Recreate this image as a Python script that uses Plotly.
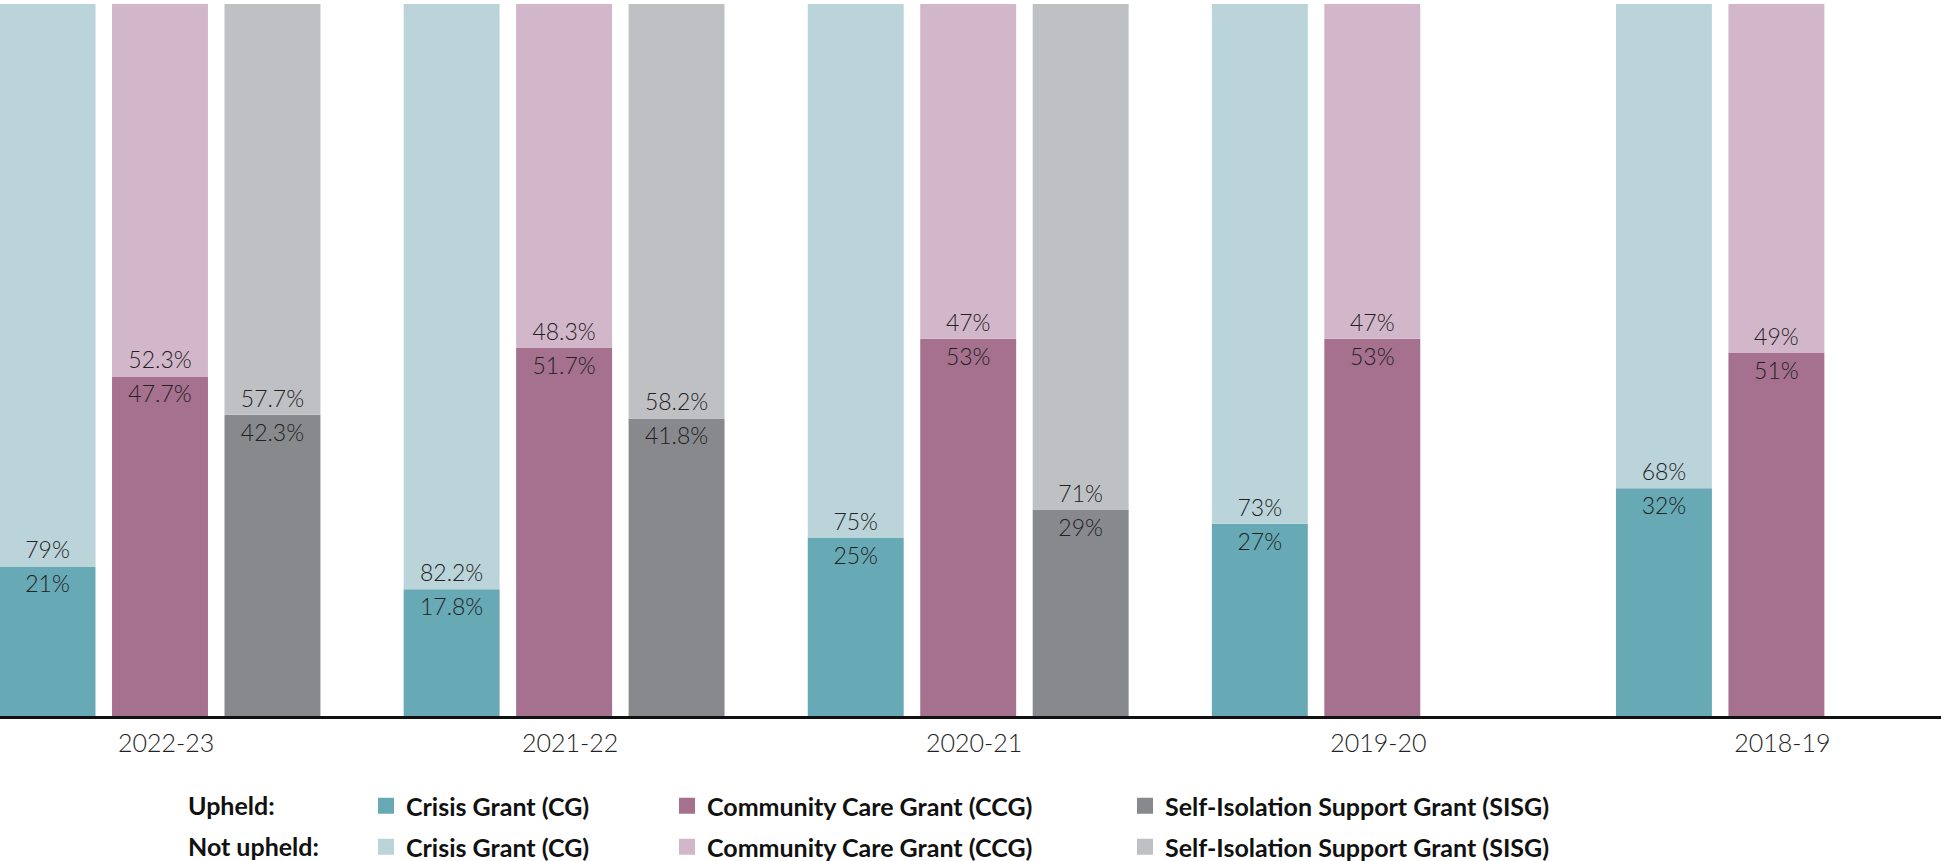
import plotly.graph_objects as go

years = ["2022-23", "2021-22", "2020-21", "2019-20", "2018-19"]
cg_upheld = [21, 17.8, 25, 27, 32]
cg_not_upheld = [79, 82.2, 75, 73, 68]
ccg_upheld = [47.7, 51.7, 53, 53, 51]
ccg_not_upheld = [52.3, 48.3, 47, 47, 49]
sisg_upheld = [42.3, 41.8, 29, None, None]
sisg_not_upheld = [57.7, 58.2, 71, None, None]

grant_names = ["Crisis Grant (CG)", "Community Care Grant (CCG)", "Self-Isolation Support Grant (SISG)"]
groups = ["cg", "ccg", "sisg"]
dark_colors = ["#67A9B5", "#A5718F", "#88898D"]
light_colors = ["#BAD4DA", "#D2B7CA", "#BFC0C4"]
upheld_series = [cg_upheld, ccg_upheld, sisg_upheld]
not_series = [cg_not_upheld, ccg_not_upheld, sisg_not_upheld]

W, H = 1941, 861
M_T, M_B = 4, 145
PH = H - M_T - M_B
FONT = "Lato"
TXT = "#222222"


def lab(vals):
    return ["" if v is None else f"{v:g}%" for v in vals]


label_font = dict(family=FONT, size=23, color=TXT, weight=300)

fig = go.Figure()
for i in range(3):
    up = upheld_series[i]
    nu = not_series[i]
    fig.add_trace(go.Bar(
        x=years, y=up, offsetgroup=groups[i], marker=dict(color=dark_colors[i], line=dict(width=0)),
        text=lab(up), textposition="inside", insidetextanchor="end", textangle=0,
        constraintext="none", textfont=label_font,
        showlegend=False, name="Upheld: " + grant_names[i], legendgroup="u" + groups[i],
    ))
    fig.add_trace(go.Bar(
        x=years, y=nu, base=[0 if v is None else v for v in up], offsetgroup=groups[i],
        marker=dict(color=light_colors[i], line=dict(width=0)),
        text=lab(nu), textposition="inside", insidetextanchor="start", textangle=0,
        constraintext="none", textfont=label_font,
        showlegend=False, name="Not upheld: " + grant_names[i], legendgroup="n" + groups[i],
    ))


def ypx(py):
    return (H - M_B - py) / PH


bold_font = dict(family=FONT, size=25, color="#111111", weight="bold")
legend_x = [366, 667, 1125]
row_y = [806, 847]

legend_layouts = {}
for r, (kind, cols) in enumerate((("u", dark_colors), ("n", light_colors))):
    for i in range(3):
        n = r * 3 + i + 1
        lid = "legend" if n == 1 else f"legend{n}"
        fig.add_trace(go.Scatter(
            x=[None], y=[None], mode="markers",
            marker=dict(symbol="square", size=19, color=cols[i]),
            name=grant_names[i], legend=lid, legendgroup=kind + groups[i],
            showlegend=True, hoverinfo="skip",
        ))
        legend_layouts[lid] = dict(
            orientation="v", x=legend_x[i] / W, xanchor="left",
            y=ypx(row_y[r]), yanchor="middle", font=bold_font,
            bgcolor="rgba(0,0,0,0)", itemclick=False, itemdoubleclick=False,
        )

cat_step = 404.1
cat0 = 160
fig.update_layout(
    width=W, height=H,
    margin=dict(l=0, r=0, t=M_T, b=M_B, pad=0, autoexpand=False),
    paper_bgcolor="white", plot_bgcolor="white",
    barmode="group", bargap=0.165, bargroupgap=0.147,
    xaxis=dict(
        type="category", range=[-cat0 / cat_step, (W - cat0) / cat_step],
        showline=True, linecolor="#111111", linewidth=3, showgrid=False, zeroline=False,
        ticks="", tickfont=dict(family=FONT, size=25, color=TXT, weight=300),
        ticklabelstandoff=3, ticklabelshift=6, automargin=False,
    ),
    yaxis=dict(range=[0, 100], visible=False, showgrid=False, zeroline=False),
    annotations=[
        dict(text="Upheld:", x=186 / W, y=ypx(805), xref="paper", yref="paper",
             xanchor="left", yanchor="middle", showarrow=False, font=bold_font),
        dict(text="Not upheld:", x=186 / W, y=ypx(846), xref="paper", yref="paper",
             xanchor="left", yanchor="middle", showarrow=False, font=bold_font),
    ],
    **legend_layouts,
)

fig.write_html("out.html")
